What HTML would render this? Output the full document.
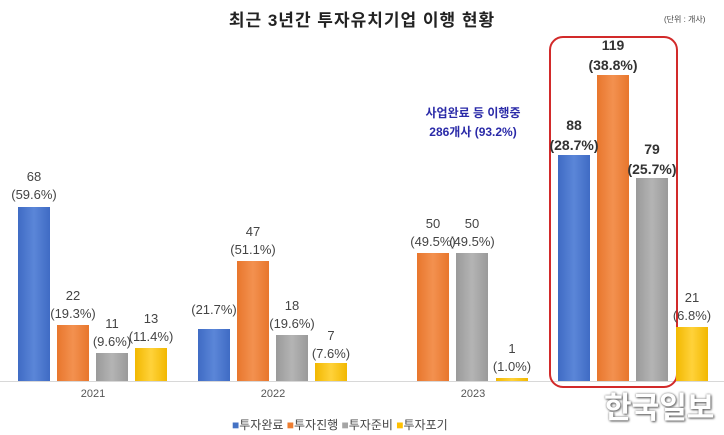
<!DOCTYPE html>
<html><head><meta charset="utf-8"><style>
body{margin:0;width:724px;height:435px;background:#fff;position:relative;overflow:hidden;font-family:"Liberation Sans","Noto Sans CJK KR",sans-serif}
.b{position:absolute;bottom:54px;width:32px}
.bl{background:linear-gradient(90deg,#3f6bc4,#5b86d8,#3f6bc4)}
.or{background:linear-gradient(90deg,#e8762d,#f3914f,#e8762d)}
.gr{background:linear-gradient(90deg,#9a9a9a,#b4b4b4,#9a9a9a)}
.ye{background:linear-gradient(90deg,#f2b800,#ffd23a,#f2b800)}
.l{position:absolute;font-size:13px;color:#444;text-align:center;width:70px;line-height:18px;font-family:"Liberation Sans Narrow","Liberation Sans",sans-serif}
.k{font-weight:bold;font-size:14px;color:#333;line-height:20px}
.y{position:absolute;top:388px;font-size:11px;color:#555;width:60px;text-align:center}
</style></head><body>
<div style="position:absolute;top:6px;left:0;width:724px;text-align:center;font-size:17px;font-weight:bold;color:#222;letter-spacing:1px">최근 3년간 투자유치기업 이행 현황</div>
<div style="position:absolute;top:14px;left:664px;font-size:8px;color:#444">(단위 : 개사)</div>
<div style="position:absolute;left:0;top:381px;width:724px;height:1px;background:#d8d8d8"></div>
<div style="position:absolute;left:549px;top:36px;width:125px;height:348px;border:2px solid #d22a2a;border-radius:14px"></div>
<div class="b bl" style="left:18px;height:174px"></div>
<div class="b or" style="left:57px;height:56px"></div>
<div class="b gr" style="left:96px;height:28px"></div>
<div class="b ye" style="left:135px;height:33px"></div>
<div class="b bl" style="left:198px;height:52px"></div>
<div class="b or" style="left:237px;height:120px"></div>
<div class="b gr" style="left:276px;height:46px"></div>
<div class="b ye" style="left:315px;height:18px"></div>
<div class="b or" style="left:417px;height:128px"></div>
<div class="b gr" style="left:456px;height:128px"></div>
<div class="b ye" style="left:496px;height:3px"></div>
<div class="b bl" style="left:558px;height:226px"></div>
<div class="b or" style="left:597px;height:306px"></div>
<div class="b gr" style="left:636px;height:203px"></div>
<div class="b ye" style="left:676px;height:54px"></div>
<div class="l" style="left:-1px;top:168px">68<br>(59.6%)</div>
<div class="l" style="left:38px;top:287px">22<br>(19.3%)</div>
<div class="l" style="left:77px;top:315px">11<br>(9.6%)</div>
<div class="l" style="left:116px;top:310px">13<br>(11.4%)</div>
<div class="l" style="left:179px;top:301px">(21.7%)</div>
<div class="l" style="left:218px;top:223px">47<br>(51.1%)</div>
<div class="l" style="left:257px;top:297px">18<br>(19.6%)</div>
<div class="l" style="left:296px;top:327px">7<br>(7.6%)</div>
<div class="l" style="left:398px;top:215px">50<br>(49.5%)</div>
<div class="l" style="left:437px;top:215px">50<br>(49.5%)</div>
<div class="l" style="left:477px;top:340px">1<br>(1.0%)</div>
<div class="l k" style="left:539px;top:115px">88<br>(28.7%)</div>
<div class="l k" style="left:578px;top:35px">119<br>(38.8%)</div>
<div class="l k" style="left:617px;top:139px">79<br>(25.7%)</div>
<div class="l" style="left:657px;top:289px">21<br>(6.8%)</div>
<div style="position:absolute;left:400px;top:104px;width:146px;text-align:center;font-size:12px;font-weight:bold;color:#2a2aa8;line-height:19px">사업완료 등 이행중<br>286개사 (93.2%)</div>
<div class="y" style="left:63px">2021</div>
<div class="y" style="left:243px">2022</div>
<div class="y" style="left:443px">2023</div>
<div style="position:absolute;left:604px;top:383px;font-size:30px;font-weight:bold;color:#fff;text-shadow:0 0 2px #777,1px 1px 2px #555">한국일보</div>
<div style="position:absolute;left:232px;top:416px;font-size:12px;color:#444;white-space:nowrap">
<span style="color:#4472c4">■</span>투자완료 <span style="color:#ed7d31">■</span>투자진행 <span style="color:#a5a5a5">■</span>투자준비 <span style="color:#ffc000">■</span>투자포기</div>
</body></html>
